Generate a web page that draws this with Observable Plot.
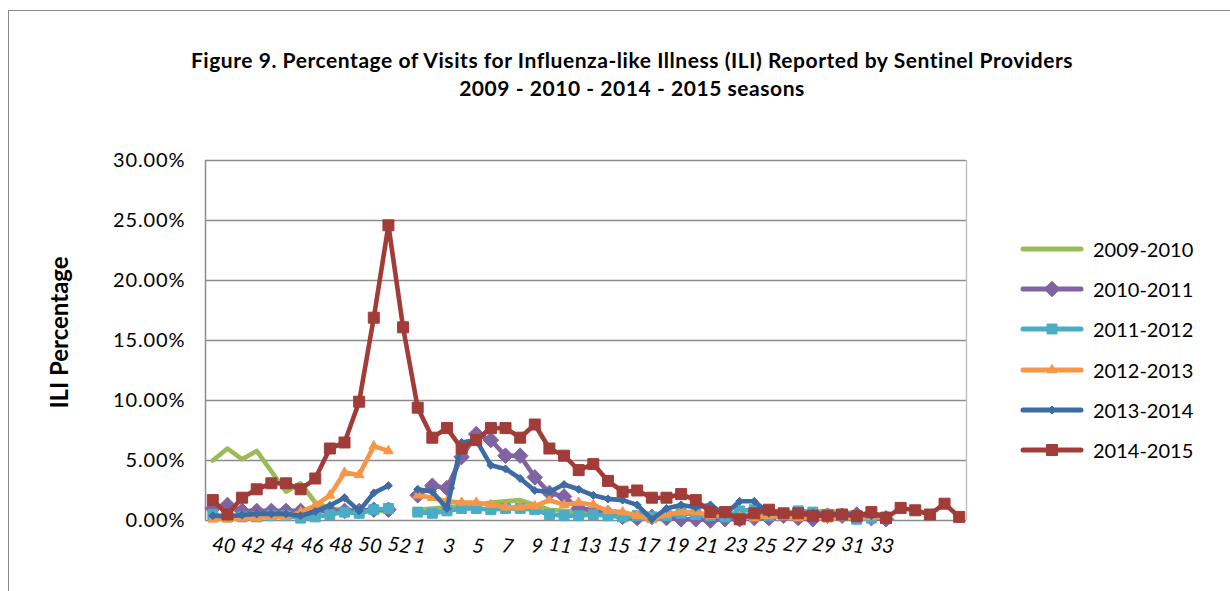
<!DOCTYPE html>
<html><head><meta charset="utf-8">
<script src="https://cdn.jsdelivr.net/npm/d3@7"></script>
<script src="https://cdn.jsdelivr.net/npm/@observablehq/plot@0.6"></script>
<style>
body{margin:0;background:#fff;font-family:Lato,"Open Sans",sans-serif;}
#wrap{position:relative;width:1230px;height:591px;overflow:hidden;background:#fff;}
#frame{position:absolute;left:8px;top:10px;width:1240px;height:640px;border:1.5px solid #8a8a8a;box-sizing:border-box;}
#title{position:absolute;left:0;width:1264px;top:46px;text-align:center;font-weight:bold;font-size:21px;letter-spacing:0.55px;line-height:28px;color:#000;}
#chart{position:absolute;left:0;top:0;}
#legend{position:absolute;left:1020px;top:229px;}
.row{height:40.2px;display:flex;align-items:center;font-size:20px;color:#000;}
.row svg{margin-right:9px;}
</style></head>
<body><div id="wrap"><div id="frame"></div><div id="title"></div><div id="chart"></div><div id="legend"></div></div>
<script>
const titleLines = ["Figure 9. Percentage of Visits for Influenza-like Illness (ILI) Reported by Sentinel Providers", "2009 - 2010 - 2014 - 2015 seasons"];
const yLabel = "ILI Percentage";
const weeks = [39,40,41,42,43,44,45,46,47,48,49,50,51,52,1,2,3,4,5,6,7,8,9,10,11,12,13,14,15,16,17,18,19,20,21,22,23,24,25,26,27,28,29,30,31,32,33,34,35,36,37,38];
const tickWeeks = [40,42,44,46,48,50,52,1,3,5,7,9,11,13,15,17,19,21,23,25,27,29,31,33];
const yTicks = [0,5,10,15,20,25,30];
const seasons = ["2009-2010","2010-2011","2011-2012","2012-2013","2013-2014","2014-2015"];
const colors = ["#9BBB59","#8064A2","#4BACC6","#F79646","#3D6BA3","#A13C38"];
const N = null;
const v0910 = [5.0,6.0,5.1,5.8,4.1,2.4,3.1,1.5,1.0,0.9,0.8,0.8,0.8,N,
  0.9,1.0,1.1,1.2,1.3,1.5,1.6,1.7,1.3,0.9,0.8,0.7,0.7,0.6,0.5,0.5,0.4,0.5,0.6,0.6,0.5,0.5,0.4,0.5,0.6,0.7,0.7,0.7,0.8,0.7,0.6,0.5,0.5,N,N,N,N,N];
const v1011 = [1.0,1.3,0.8,0.8,0.8,0.8,0.8,0.8,0.8,0.8,0.8,0.9,0.9,N,
  2.1,2.9,2.7,5.3,7.2,6.7,5.4,5.4,3.6,2.3,2.0,1.0,0.9,0.6,0.3,0.2,0.3,0.2,0.1,0.1,0.0,0.1,0.1,0.2,0.2,0.4,0.2,0.1,0.4,0.4,0.5,0.2,0.1,N,N,N,N,N];
const v1112 = [0.5,0.3,0.3,0.3,0.4,0.4,0.2,0.3,0.5,0.7,0.6,0.9,1.0,N,
  0.7,0.6,0.8,1.0,1.0,0.9,1.0,1.0,0.9,0.5,0.4,0.4,0.5,0.4,0.3,0.4,0.3,0.4,0.6,0.5,0.4,0.3,0.8,0.9,0.4,0.5,0.8,0.7,0.5,0.4,0.1,0.2,0.3,N,N,N,N,N];
const v1213 = [0.1,0.1,0.2,0.2,0.3,0.3,0.7,1.25,2.1,4.0,3.8,6.2,5.8,N,
  2.1,1.9,1.6,1.5,1.5,1.3,1.1,1.1,1.2,1.7,1.3,1.5,1.3,0.8,0.7,0.4,0.05,0.5,0.7,0.7,0.4,0.5,0.3,0.2,0.4,0.3,0.2,0.3,0.1,0.3,0.2,0.3,0.3,N,N,N,N,N];
const v1314 = [0.4,0.35,0.45,0.55,0.55,0.55,0.4,0.75,1.25,1.9,0.8,2.3,2.9,N,
  2.6,2.4,1.0,6.5,6.7,4.6,4.3,3.5,2.5,2.4,3.0,2.6,2.1,1.8,1.7,1.3,0.1,1.0,1.3,1.1,1.3,0.5,1.6,1.6,0.6,0.5,0.6,0.6,0.5,0.6,0.5,0.4,0.5,N,N,N,N,N];
const v1415 = [1.7,0.5,1.9,2.6,3.1,3.1,2.6,3.5,6.0,6.5,9.9,16.9,24.6,16.1,
  9.4,6.9,7.7,6.0,6.7,7.7,7.7,6.9,8.0,6.0,5.4,4.2,4.7,3.3,2.4,2.5,1.9,1.9,2.2,1.7,0.7,0.7,0.1,0.6,0.9,0.6,0.6,0.4,0.4,0.5,0.35,0.7,0.2,1.05,0.85,0.5,1.4,0.3];
const values = [v0910,v1011,v1112,v1213,v1314,v1415];
const symbols = [null,"diamond2","square","triangle","diamond2","square"];
const radii = [0,7,5.6,3.6,3.6,6.2];

document.getElementById("title").innerHTML = titleLines.map(t => `<div>${t}</div>`).join("");

const rows = seasons.map((s,k) => values[k].map((v,i) => ({season:s, week:weeks[i], value:v})));

const marks = [
  Plot.ruleY(yTicks, {stroke:"#8c8c8c", strokeWidth:1.3}),
  Plot.ruleX([weeks[weeks.length-1]], {stroke:"#c0c0c0", strokeWidth:1.5, dx:7.3}),
  Plot.axisY({ticks:yTicks, tickSize:0, tickPadding:20, fontSize:20, tickFormat:d => d.toFixed(2)+"%", label:null}),
  Plot.axisY({ticks:[], tickSize:0, label:yLabel, labelArrow:"none", labelAnchor:"center", labelOffset:155, fontSize:24, fontWeight:"bold"}),
  Plot.axisX({ticks:tickWeeks, tickSize:0, tickPadding:19, fontSize:20, fontStyle:"italic", textAnchor:"end", dx:9, label:null}),
  Plot.ruleX([weeks[0]], {stroke:"#8c8c8c", strokeWidth:1.5, dx:-7.3})
];
seasons.forEach((s,k) => {
  marks.push(Plot.line(rows[k], {x:"week", y:"value", stroke:colors[k], strokeWidth:4.6, strokeLinejoin:"round", strokeLinecap:"round"}));
  if (symbols[k]) marks.push(Plot.dot(rows[k].filter(d => d.value != null), {x:"week", y:"value", symbol:symbols[k], r:radii[k], fill:colors[k], stroke:colors[k], strokeWidth:1}));
});

const plot = Plot.plot({
  width:1230, height:591,
  marginLeft:205, marginRight:264, marginTop:160, marginBottom:71,
  style:{background:"transparent", fontFamily:"Lato, 'Open Sans', sans-serif", color:"#000", overflow:"visible"},
  x:{type:"point", domain:weeks, padding:0.5, axis:null},
  y:{domain:[0,30], axis:null},
  marks
});
document.getElementById("chart").appendChild(plot);
// slight tilt of category labels, letter spacing of percentage labels
d3.select(plot).selectAll("g[aria-label='x-axis tick label'] text").each(function(){
  const t = this.getAttribute("transform") || "";
  this.setAttribute("transform", t + " rotate(8)");
});
d3.select(plot).selectAll("g[aria-label='y-axis tick label'] text").style("letter-spacing","0.9px");
d3.select(plot).selectAll("g[aria-label='y-axis label'] text").each(function(){
  this.textContent = this.textContent.replace(/[↑→↓←]\s*/g,"").trim();
  const t = this.getAttribute("transform") || "";
  this.setAttribute("transform", "translate(0,-8) " + t);
});

const legend = document.getElementById("legend");
seasons.forEach((s,k) => {
  const row = document.createElement("div"); row.className = "row";
  const sym = symbols[k] ? d3.symbol(symbols[k]==="diamond2"?d3.symbolDiamond2:symbols[k]==="square"?d3.symbolSquare:d3.symbolTriangle, Math.PI*radii[k]*radii[k])() : "";
  row.innerHTML = `<svg width="64" height="20"><line x1="3" x2="61" y1="10" y2="10" stroke="${colors[k]}" stroke-width="5" stroke-linecap="round"/>${sym?`<path d="${sym}" transform="translate(32,10)" fill="${colors[k]}" stroke="${colors[k]}"/>`:""}</svg><span>${s}</span>`;
  legend.appendChild(row);
});
</script></body></html>
